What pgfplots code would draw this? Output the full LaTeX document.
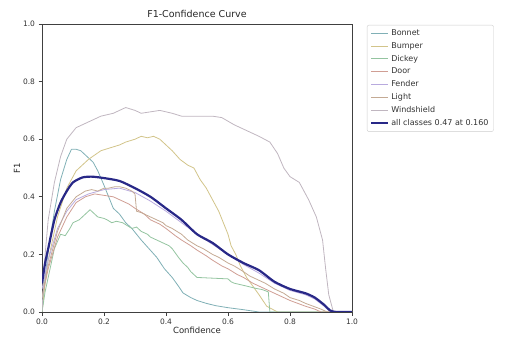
\documentclass[border=0pt]{standalone}
\usepackage{pgfplots}
\pgfplotsset{compat=1.18}
\usepackage{fontspec}
\setmainfont{DejaVu Sans}
\definecolor{cBonnet}{RGB}{128,176,182}
\definecolor{cBumper}{RGB}{210,196,138}
\definecolor{cDickey}{RGB}{148,196,160}
\definecolor{cDoor}{RGB}{208,158,148}
\definecolor{cFender}{RGB}{184,170,222}
\definecolor{cLight}{RGB}{196,170,148}
\definecolor{cWind}{RGB}{192,182,192}
\definecolor{cAll}{RGB}{40,40,135}
\begin{document}
\begin{tikzpicture}
\path[use as bounding box] (-42bp,-26bp) rectangle (468bp,312bp);
\begin{axis}[
  at={(0,0)}, anchor=south west,
  scale only axis, width=310bp, height=288bp,
  xmin=0, xmax=1, ymin=0, ymax=1,
  xtick={0,0.2,0.4,0.6,0.8,1.0}, ytick={0,0.2,0.4,0.6,0.8,1.0},
  xtick pos=lower, ytick pos=left, tick align=outside,
  major tick length=3.5bp,
  /pgf/number format/assume math mode=true,
  /pgf/number format/.cd, fixed, fixed zerofill, precision=1, /pgfplots/.cd,
  ticklabel style={font=\fontsize{7.5bp}{9bp}\selectfont, color=black!80},
  axis line style={color=black!75, line width=0.6bp},
  every tick/.style={color=black!75, line width=0.6bp},
  title={F1-Confidence Curve},
  title style={font=\fontsize{9.5bp}{11bp}\selectfont, color=black!85, yshift=-3bp},
  xlabel={Confidence}, ylabel={F1},
  label style={font=\fontsize{8.5bp}{10bp}\selectfont, color=black!85},
  xlabel style={yshift=4bp},
  ylabel style={yshift=-4bp},
  legend style={at={(axis description cs:1.048,0.997)}, anchor=north west,
    font=\fontsize{8bp}{10bp}\selectfont, draw=black!20, rounded corners=2bp,
    row sep=1.4bp, inner xsep=3bp, inner ysep=2.5bp,
    text=black!80},
  legend cell align=left,
  every axis plot/.append style={sharp plot, line join=round},
]
% Bonnet (teal, peak 0.57)
\addplot[cBonnet, line width=0.8bp] coordinates {(0,0) (0.01,0.12) (0.02,0.21) (0.04,0.35) (0.06,0.46) (0.08,0.53) (0.095,0.565) (0.11,0.565) (0.125,0.56) (0.14,0.545) (0.155,0.53) (0.165,0.52) (0.18,0.49) (0.2,0.44) (0.215,0.40) (0.23,0.36) (0.25,0.34) (0.27,0.31) (0.29,0.29) (0.32,0.25) (0.345,0.22) (0.37,0.19) (0.395,0.15) (0.42,0.12) (0.44,0.09) (0.455,0.066) (0.48,0.05) (0.5,0.04) (0.53,0.03) (0.56,0.022) (0.6,0.015) (0.65,0.008) (0.7,0.0) (1,0)};
\addlegendentry{Bonnet}
% Bumper (olive, peak 0.61)
\addplot[cBumper, line width=0.8bp] coordinates {(0,0) (0.01,0.1) (0.02,0.18) (0.05,0.33) (0.08,0.43) (0.11,0.49) (0.13,0.51) (0.15,0.53) (0.17,0.545) (0.19,0.56) (0.22,0.57) (0.25,0.58) (0.27,0.59) (0.3,0.60) (0.32,0.61) (0.34,0.605) (0.36,0.61) (0.38,0.60) (0.39,0.59) (0.41,0.57) (0.42,0.56) (0.445,0.53) (0.47,0.51) (0.49,0.50) (0.51,0.46) (0.53,0.43) (0.55,0.39) (0.57,0.35) (0.585,0.31) (0.6,0.27) (0.61,0.23) (0.625,0.20) (0.64,0.16) (0.66,0.12) (0.68,0.09) (0.70,0.06) (0.725,0.02) (0.76,0.0) (1,0)};
\addlegendentry{Bumper}
% Dickey (green, peak 0.35)
\addplot[cDickey, line width=0.8bp] coordinates {(0,0) (0.01,0.07) (0.02,0.12) (0.04,0.22) (0.06,0.27) (0.075,0.265) (0.09,0.29) (0.1,0.31) (0.12,0.32) (0.135,0.335) (0.155,0.355) (0.17,0.34) (0.18,0.33) (0.2,0.325) (0.21,0.32) (0.225,0.31) (0.24,0.315) (0.26,0.31) (0.275,0.30) (0.29,0.29) (0.305,0.295) (0.32,0.28) (0.34,0.27) (0.35,0.26) (0.37,0.25) (0.39,0.24) (0.41,0.23) (0.42,0.22) (0.44,0.19) (0.455,0.17) (0.47,0.155) (0.48,0.14) (0.5,0.12) (0.6,0.115) (0.61,0.105) (0.62,0.10) (0.64,0.095) (0.66,0.09) (0.69,0.082) (0.71,0.078) (0.73,0.07) (0.735,0.0) (1,0)};
\addlegendentry{Dickey}
% Door (red, peak 0.41)
\addplot[cDoor, line width=0.8bp] coordinates {(0,0.05) (0.02,0.15) (0.05,0.26) (0.08,0.33) (0.11,0.38) (0.14,0.40) (0.17,0.41) (0.2,0.405) (0.23,0.40) (0.25,0.39) (0.28,0.375) (0.3,0.36) (0.33,0.34) (0.35,0.32) (0.38,0.305) (0.4,0.29) (0.43,0.265) (0.45,0.25) (0.48,0.23) (0.5,0.215) (0.53,0.195) (0.55,0.18) (0.58,0.16) (0.6,0.15) (0.63,0.13) (0.65,0.12) (0.68,0.10) (0.7,0.09) (0.73,0.075) (0.75,0.065) (0.78,0.05) (0.8,0.04) (0.83,0.028) (0.85,0.02) (0.88,0.01) (0.9,0) (1,0)};
\addlegendentry{Door}
% Fender (lavender, near all classes)
\addplot[cFender, line width=0.8bp] coordinates {(0,0.08) (0.02,0.18) (0.05,0.29) (0.08,0.35) (0.11,0.39) (0.15,0.41) (0.2,0.425) (0.25,0.43) (0.3,0.415) (0.35,0.385) (0.4,0.35) (0.45,0.31) (0.5,0.27) (0.55,0.235) (0.6,0.20) (0.65,0.165) (0.7,0.135) (0.75,0.10) (0.8,0.075) (0.85,0.06) (0.88,0.045) (0.91,0.02) (0.93,0) (1,0)};
\addlegendentry{Fender}
% Light (brown, peak 0.43, drop at 0.305)
\addplot[cLight, line width=0.8bp] coordinates {(0,0.05) (0.02,0.16) (0.05,0.28) (0.08,0.36) (0.11,0.40) (0.14,0.42) (0.16,0.425) (0.18,0.42) (0.2,0.43) (0.215,0.43) (0.235,0.435) (0.25,0.435) (0.27,0.43) (0.29,0.42) (0.30,0.41) (0.305,0.35) (0.32,0.345) (0.33,0.34) (0.35,0.33) (0.37,0.32) (0.39,0.31) (0.4,0.30) (0.42,0.29) (0.45,0.27) (0.47,0.25) (0.5,0.23) (0.52,0.22) (0.55,0.20) (0.57,0.19) (0.6,0.17) (0.62,0.16) (0.65,0.14) (0.67,0.125) (0.7,0.11) (0.72,0.10) (0.75,0.08) (0.78,0.065) (0.8,0.05) (0.83,0.04) (0.85,0.03) (0.88,0.018) (0.9,0.01) (0.92,0) (1,0)};
\addlegendentry{Light}
% Windshield (grey-pink, peak 0.70)
\addplot[cWind, line width=0.8bp] coordinates {(0,0) (0.01,0.2) (0.02,0.32) (0.04,0.45) (0.06,0.54) (0.08,0.60) (0.11,0.64) (0.15,0.66) (0.19,0.68) (0.23,0.69) (0.27,0.71) (0.30,0.70) (0.32,0.69) (0.35,0.695) (0.38,0.70) (0.42,0.69) (0.45,0.68) (0.50,0.68) (0.55,0.68) (0.58,0.675) (0.62,0.65) (0.66,0.63) (0.70,0.61) (0.735,0.59) (0.76,0.55) (0.78,0.50) (0.80,0.47) (0.83,0.45) (0.86,0.39) (0.885,0.33) (0.905,0.25) (0.915,0.15) (0.925,0.06) (0.94,0.0) (1.0,0.0)};
\addlegendentry{Windshield}
% all classes
\addplot[cAll, line width=2.2bp, smooth, tension=0.4] coordinates {(0,0.10) (0.01,0.17) (0.02,0.22) (0.04,0.32) (0.06,0.38) (0.08,0.42) (0.10,0.45) (0.13,0.467) (0.16,0.47) (0.2,0.465) (0.25,0.455) (0.3,0.43) (0.35,0.40) (0.4,0.36) (0.45,0.32) (0.5,0.27) (0.55,0.24) (0.6,0.20) (0.65,0.17) (0.7,0.145) (0.75,0.105) (0.8,0.08) (0.85,0.065) (0.88,0.05) (0.91,0.025) (0.93,0.005) (0.95,0) (1,0)};
\addlegendentry{all classes 0.47 at 0.160}
\end{axis}
\end{tikzpicture}
\end{document}
